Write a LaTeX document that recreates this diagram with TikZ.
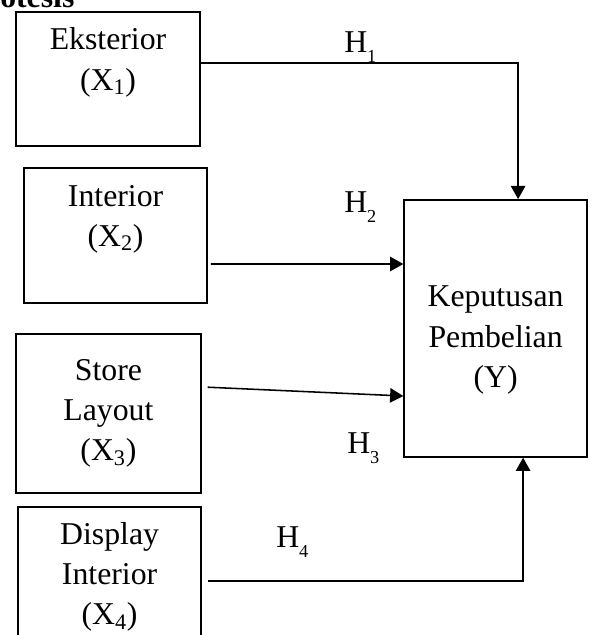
\documentclass[tikz,border=0pt]{standalone}
\usepackage{fontspec}
\setmainfont{Liberation Serif}
\usetikzlibrary{arrows.meta,positioning,calc}
\newcommand{\hyp}[1]{H\raisebox{-0.32em}{\fontsize{13}{13}\selectfont #1}}

\begin{document}
\begin{tikzpicture}[>={Triangle[length=3.3mm,width=3.6mm]},
 every node/.style={font=\fontsize{22.6}{28.5}\selectfont},
 box/.style={draw,line width=1.1pt,inner sep=0pt,align=center,minimum width=4.6cm},
 link/.style={->,line width=1.1pt},
 hlabel/.style={anchor=base west,inner sep=0pt}]
\clip (0,0) rectangle (14.8,-15.875);
\node[anchor=base west,inner sep=0pt,font=\fontsize{22.6}{26}\selectfont\bfseries] (title) at (0,-0.2) {otesis};
\node[box,minimum height=3.35cm] (x1) at (2.70,-1.975) {Eksterior\\(X\textsubscript{1})\\\mbox{}};
\node[box,minimum width=4.575cm,minimum height=3.375cm] (x2) at (2.89,-5.89) {Interior\\(X\textsubscript{2})\\\mbox{}};
\node[box,minimum width=4.625cm,minimum height=3.975cm] (x3) at (2.71,-10.34) {Store\\Layout\\(X\textsubscript{3})};
\node[box,minimum width=4.575cm,minimum height=3.5cm] (x4) at (2.74,-14.425) {Display\\Interior\\(X\textsubscript{4})};
\node[box,minimum width=4.575cm,minimum height=6.425cm] (y) at (12.39,-8.21) {};
\node[align=center] (ytext) at ([yshift=-0.29cm]y.center) {Keputusan\\Pembelian\\(Y)};
% hypothesis paths
\draw[link] ([yshift=0.4cm]x1.east) -| ([xshift=0.5625cm]y.north);
\draw[link] ([xshift=0.075cm,yshift=-0.71cm]x2.east) -- ([yshift=1.61cm]y.west);
\draw[link] ([xshift=0.15cm,yshift=0.66cm]x3.east) -- ([yshift=-1.69cm]y.west);
\draw[link] ([xshift=0.15cm,yshift=-0.1cm]x4.east) -| ([xshift=0.6875cm]y.south);
\node[hlabel] (h1) at (8.6,-1.3) {\hyp{1}};
\node[hlabel] (h2) at (8.6,-5.3) {\hyp{2}};
\node[hlabel] (h3) at (8.675,-11.325) {\hyp{3}};
\node[hlabel] (h4) at (6.9,-13.675) {\hyp{4}};
\end{tikzpicture}
\end{document}
